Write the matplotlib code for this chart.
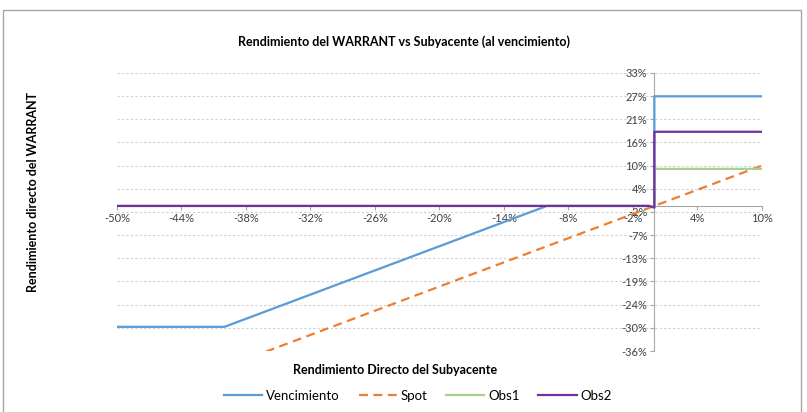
import numpy as np
import matplotlib
matplotlib.use("Agg")
import matplotlib.pyplot as plt
from matplotlib.patches import Rectangle

plt.rcParams['font.family'] = ['Lato', 'DejaVu Sans']

# data (returns in %)
venc_x = [-50, -40, -10, -0.5, 0, 0, 10]
venc_y = [-30, -30, 0, 0, -0.4, 27.2, 27.2]
spot_x = [-50, 10]
spot_y = [-50, 10]
obs1_x = [-50, -0.5, 0, 0, 10]
obs1_y = [0, 0, -0.4, 9.2, 9.2]
obs2_x = [-50, -0.5, 0, 0, 10]
obs2_y = [0, 0, -0.4, 18.4, 18.4]

x_ticks = [-50, -44, -38, -32, -26, -20, -14, -8, -2, 4, 10]
y_labels = ["-36%", "-30%", "-24%", "-19%", "-13%", "-7%", "-2%",
            "4%", "10%", "16%", "21%", "27%", "33%"]

fig = plt.figure(figsize=(8.07, 4.12), dpi=100)
fig.patches.append(Rectangle((0.004, -0.01), 0.988, 0.985, transform=fig.transFigure,
                             fill=False, edgecolor='#A6A6A6', linewidth=1))
ax = fig.add_axes([0.145, 0.148, 0.799, 0.675])

ax.plot(venc_x, venc_y, color='#5B9BD5', lw=1.6, label='Vencimiento', zorder=3)
ax.plot(spot_x, spot_y, color='#ED7D31', lw=1.6, dashes=(4, 2.5), label='Spot', zorder=3)
ax.plot(obs1_x, obs1_y, color='#A9D18E', lw=1.6, label='Obs1', zorder=3)
ax.plot(obs2_x, obs2_y, color='#7030A0', lw=1.6, label='Obs2', zorder=3)

ax.set_xlim(-50, 10)
ax.set_ylim(-36, 33)
ax.set_xticks(x_ticks)
ax.set_xticklabels([f"{v}%" for v in x_ticks])
ax.set_yticks(np.linspace(-36, 33, len(y_labels)))
ax.set_yticklabels(y_labels)

for s in ['top', 'right']:
    ax.spines[s].set_visible(False)
ax.spines['left'].set_position(('data', 0))
ax.spines['bottom'].set_position(('data', 0))
for s in ['left', 'bottom']:
    ax.spines[s].set_color('#A6A6A6')
ax.tick_params(length=3, color='#A6A6A6', labelsize=8, labelcolor='#404040', pad=2)
ax.grid(axis='y', color='#D0D0D0', linestyle=(0, (2, 2)), lw=0.8)
ax.set_axisbelow(True)

fig.text(0.5, 0.898, "Rendimiento del WARRANT vs Subyacente (al vencimiento)",
         ha='center', va='center', fontsize=9, fontweight='bold')
fig.text(0.489, 0.102, "Rendimiento Directo del Subyacente",
         ha='center', va='center', fontsize=9, fontweight='bold')
fig.text(0.041, 0.535, "Rendimiento directo del WARRANT", rotation=90,
         ha='center', va='center', fontsize=9, fontweight='bold')

fig.legend(loc='center', bbox_to_anchor=(0.518, 0.04), ncol=4, frameon=False,
           fontsize=9.5, handlelength=2.9, columnspacing=1.4, handletextpad=0.3)

fig.savefig("out.png", dpi=100)
